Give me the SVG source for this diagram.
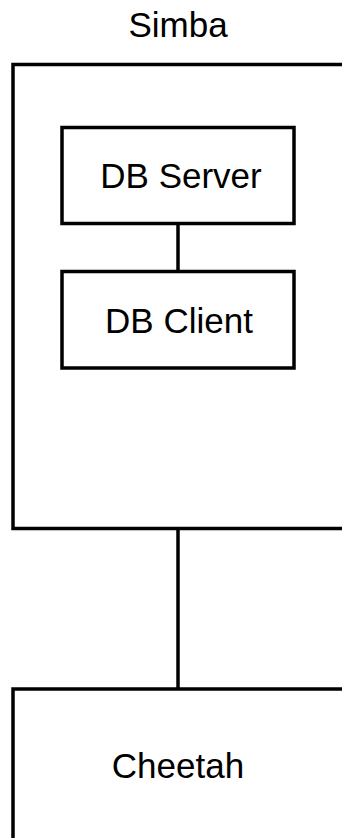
<svg xmlns="http://www.w3.org/2000/svg" width="342" height="838" viewBox="0 0 342 838">
<style>
.box{fill:#fff;stroke:#000;stroke-width:3.5}
.lbl{font-family:"Liberation Sans",Arial,Helvetica,sans-serif;font-size:35px;fill:#000;text-anchor:middle}
.conn{stroke:#000;stroke-width:3.5;fill:none}
</style>
<rect width="342" height="838" fill="#fff"/>
<g id="simba">
<text class="lbl" x="178" y="37">Simba</text>
<rect class="box" x="13" y="64.5" width="340" height="464"/>
</g>
<g id="connectors">
<line class="conn" x1="178" y1="223.5" x2="178" y2="271.5"/>
<line class="conn" x1="178" y1="528.5" x2="178" y2="689"/>
</g>
<g id="db-server">
<rect class="box" x="62" y="127.5" width="232" height="96"/>
<text class="lbl" x="181" y="188">DB Server</text>
</g>
<g id="db-client">
<rect class="box" x="62" y="271.5" width="232" height="96.5"/>
<text class="lbl" x="179" y="333">DB Client</text>
</g>
<g id="cheetah">
<rect class="box" x="13" y="689" width="340" height="160"/>
<text class="lbl" x="178" y="778">Cheetah</text>
</g>
</svg>
